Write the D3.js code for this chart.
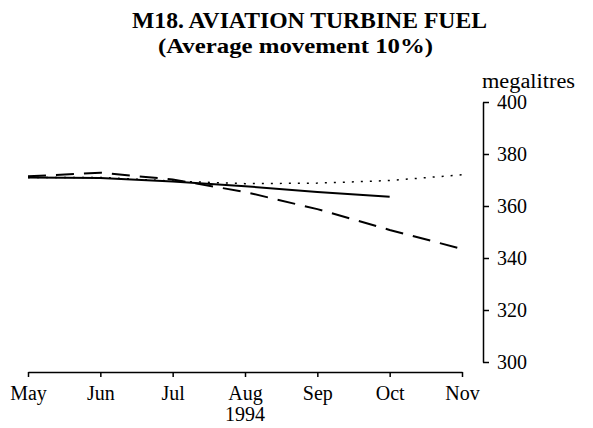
<!DOCTYPE html>
<html>
<head>
<meta charset="utf-8">
<script src="https://cdn.jsdelivr.net/npm/d3@7"></script>
<style>
  html, body { margin: 0; padding: 0; background: #fff; }
  svg { display: block; }
  text { font-family: "Liberation Serif", "Times New Roman", serif; fill: #000; }
</style>
</head>
<body>
<svg id="chart" width="593" height="428"></svg>
<script>
const months = ["May", "Jun", "Jul", "Aug", "Sep", "Oct", "Nov"];
const yTicks = [300, 320, 340, 360, 380, 400];
const trendValues = [371.0, 370.8, 369.4, 367.6, 365.4, 363.6, null];
const fallValues = [371.4, 372.8, 370.2, 365.4, 358.8, 350.8, 343.5];
const riseValues = [371.0, 371.0, 369.6, 368.6, 368.8, 369.8, 372.0];

const svg = d3.select("#chart");
const x = d3.scalePoint().domain(months).range([28, 462]);
const y = d3.scaleLinear().domain([300, 400]).range([362, 102]);

// Title
svg.append("text").attr("x", 132).attr("y", 28)
  .attr("textLength", 355).attr("lengthAdjust", "spacingAndGlyphs")
  .style("font-size", "23px").style("font-weight", "bold")
  .text("M18. AVIATION TURBINE FUEL");
svg.append("text").attr("x", 158).attr("y", 53)
  .attr("textLength", 275).attr("lengthAdjust", "spacingAndGlyphs")
  .style("font-size", "20px").style("font-weight", "bold")
  .text("(Average movement 10%)");

// X axis
const xAxis = svg.append("g").attr("transform", "translate(0,372)")
  .call(d3.axisBottom(x).tickSize(5).tickSizeOuter(0).tickPadding(9));
xAxis.select(".domain").attr("stroke", "#000").attr("stroke-width", 1.5);
xAxis.selectAll(".tick line").attr("stroke", "#000").attr("stroke-width", 1.5);
xAxis.selectAll(".tick text").style("font-size", "20px").style("font-family", "Liberation Serif, serif").attr("fill", "#000");
svg.append("text").attr("x", x("Aug")).attr("y", 421).attr("text-anchor", "middle")
  .style("font-size", "20px").text("1994");

// Y axis
const yAxis = svg.append("g").attr("transform", "translate(483,0)")
  .call(d3.axisRight(y).tickValues(yTicks).tickSize(6).tickSizeOuter(0).tickPadding(8));
yAxis.select(".domain").attr("stroke", "#000").attr("stroke-width", 1.5);
yAxis.selectAll(".tick line").attr("stroke", "#000").attr("stroke-width", 1.5);
yAxis.selectAll(".tick text").style("font-size", "20px").style("font-family", "Liberation Serif, serif").attr("fill", "#000");
svg.append("text").attr("x", 482).attr("y", 88)
  .attr("textLength", 93).attr("lengthAdjust", "spacingAndGlyphs")
  .style("font-size", "20px").text("megalitres");

// Lines
function draw(values, dash, width) {
  const line = d3.line()
    .defined(d => d.v !== null)
    .x(d => x(d.m)).y(d => y(d.v));
  svg.append("path")
    .datum(months.map((m, i) => ({ m, v: values[i] })))
    .attr("fill", "none").attr("stroke", "#000")
    .attr("stroke-width", width)
    .attr("stroke-dasharray", dash)
    .attr("d", line);
}
draw(riseValues, "2,7", 1.5);
draw(fallValues, "18,10", 2);
draw(trendValues, null, 2);
</script>
</body>
</html>
